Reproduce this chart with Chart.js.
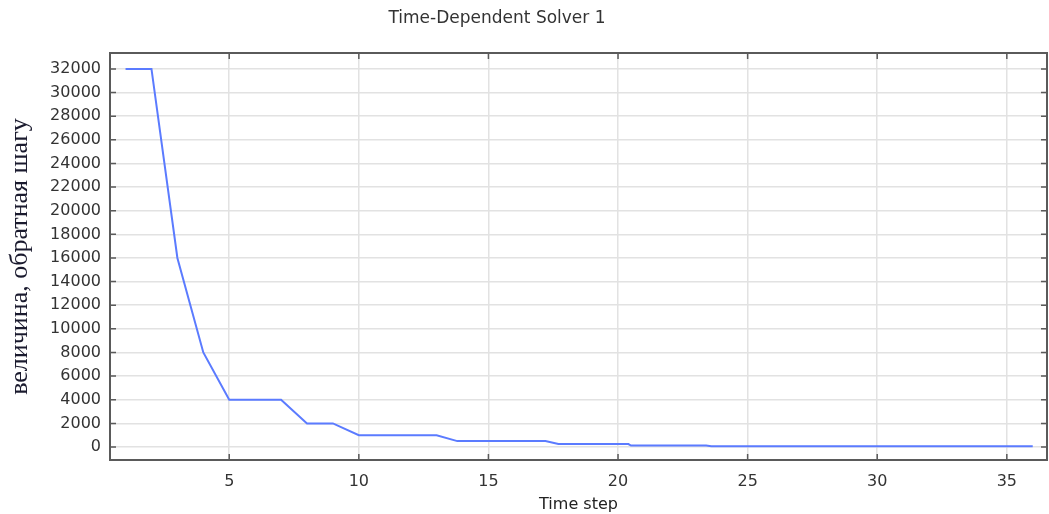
<!DOCTYPE html>
<html>
<head>
<meta charset="utf-8">
<script src="https://cdn.jsdelivr.net/npm/chart.js@4/dist/chart.umd.min.js"></script>
<style>
  html, body { margin: 0; padding: 0; background: #fff; }
  #wrap { width: 1049px; height: 514px; }
</style>
</head>
<body>
<div id="wrap"><canvas id="solverChart" width="1049" height="514"></canvas></div>
<script>
// Datos
const timeStep = [1, 2, 3, 4, 5, 6, 7, 8, 9, 10, 11, 12, 13, 13.8, 17.2, 17.7, 20.4, 20.5, 23.4, 23.6, 36];
const inverseStep = [32000, 32000, 16000, 8000, 4000, 4000, 4000, 2000, 2000, 1000, 1000, 1000, 1000, 500, 500, 250, 250, 125, 125, 62.5, 62.5];
const xTicks = [5, 10, 15, 20, 25, 30, 35];
const yTicks = [0, 2000, 4000, 6000, 8000, 10000, 12000, 14000, 16000, 18000, 20000, 22000, 24000, 26000, 28000, 30000, 32000];

const chartTitle = 'Time-Dependent Solver 1';
const xTitle = 'Time step';
const yTitle = 'величина, обратная шагу';

// Marco y marcas hacia adentro
const framePlugin = {
  id: 'frame',
  afterDraw(chart) {
    const ctx = chart.ctx;
    const a = chart.chartArea;
    const xs = chart.scales.x;
    const ys = chart.scales.y;
    ctx.save();
    ctx.strokeStyle = '#5a5a5a';
    ctx.lineWidth = 1.5;
    ctx.beginPath();
    xTicks.forEach(v => {
      const px = xs.getPixelForValue(v);
      ctx.moveTo(px, a.bottom); ctx.lineTo(px, a.bottom - 6);
      ctx.moveTo(px, a.top); ctx.lineTo(px, a.top + 6);
    });
    yTicks.forEach(v => {
      const py = ys.getPixelForValue(v);
      ctx.moveTo(a.left, py); ctx.lineTo(a.left + 6, py);
      ctx.moveTo(a.right, py); ctx.lineTo(a.right - 6, py);
    });
    ctx.stroke();
    ctx.lineWidth = 2;
    ctx.strokeRect(a.left, a.top, a.right - a.left, a.bottom - a.top);
    // titulo
    ctx.fillStyle = '#333';
    ctx.font = '17px "DejaVu Sans"';
    ctx.textAlign = 'center';
    ctx.textBaseline = 'middle';
    ctx.fillText(chartTitle, 497, 19);
    ctx.restore();
  }
};

const canvas = document.getElementById('solverChart');
new Chart(canvas.getContext('2d'), {
  type: 'line',
  data: {
    datasets: [{
      label: yTitle,
      data: timeStep.map((t, i) => ({ x: t, y: inverseStep[i] })),
      borderColor: '#5b7bff',
      borderWidth: 2,
      pointRadius: 0,
      tension: 0,
      fill: false
    }]
  },
  options: {
    responsive: false,
    animation: false,
    layout: { padding: { top: 53, right: 2, left: 0, bottom: 0 } },
    plugins: {
      legend: { display: false },
      tooltip: { enabled: false }
    },
    scales: {
      x: {
        type: 'linear',
        min: 0.4,
        max: 36.55,
        afterBuildTicks: (s) => { s.ticks = xTicks.map(v => ({ value: v })); },
        afterFit: (s) => { s.height = 54; },
        border: { display: false },
        grid: { color: '#e2e2e2', lineWidth: 1.5, drawTicks: false },
        ticks: { color: '#333', font: { family: 'DejaVu Sans', size: 16 }, padding: 12, maxRotation: 0 },
        title: { display: true, text: xTitle, color: '#222', font: { family: 'DejaVu Sans', size: 16 }, padding: { top: 0, bottom: 0 } }
      },
      y: {
        type: 'linear',
        min: -1100,
        max: 33350,
        afterBuildTicks: (s) => { s.ticks = yTicks.map(v => ({ value: v })); },
        afterFit: (s) => { s.width = 110; },
        border: { display: false },
        grid: { color: '#e2e2e2', lineWidth: 1.5, drawTicks: false },
        ticks: { color: '#333', font: { family: 'DejaVu Sans', size: 16 }, padding: 9, callback: (v) => String(v) },
        title: { display: true, text: yTitle, color: '#1a1a2e', font: { family: 'Liberation Serif', size: 26 }, padding: { top: 5, bottom: 0 } }
      }
    }
  },
  plugins: [framePlugin]
});
</script>
</body>
</html>
